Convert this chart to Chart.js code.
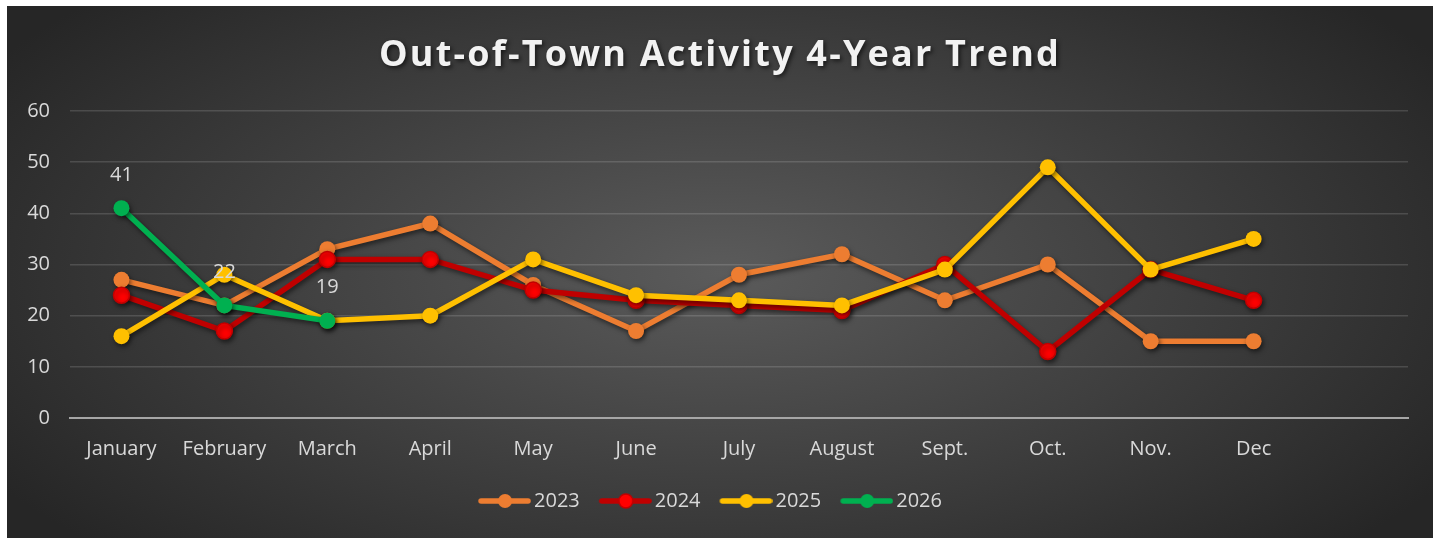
<!DOCTYPE html>
<html>
<head>
<meta charset="utf-8">
<script src="https://cdn.jsdelivr.net/npm/chart.js@4.4.1/dist/chart.umd.min.js"></script>
<style>
  html, body { margin: 0; padding: 0; background: #fff; }
  #wrap {
    position: absolute; left: 7px; top: 6px; width: 1426px; height: 532px;
    background: radial-gradient(ellipse 60% 75% at 50% 50%, #5b5b5b 0%, #3e3e3e 55%, #262626 100%);
  }
</style>
</head>
<body>
<div id="wrap"><canvas id="trendChart"></canvas></div>
<script>
// Chart data
const months = ['January', 'February', 'March', 'April', 'May', 'June', 'July', 'August', 'Sept.', 'Oct.', 'Nov.', 'Dec', ''];
const years = ['2023', '2024', '2025', '2026'];
const data2023 = [27, 22, 33, 38, 26, 17, 28, 32, 23, 30, 15, 15];
const data2024 = [24, 17, 31, 31, 25, 23, 22, 21, 30, 13, 29, 23];
const data2025 = [16, 28, 19, 20, 31, 24, 23, 22, 29, 49, 29, 35];
const data2026 = [41, 22, 19];
const yTicks = [0, 10, 20, 30, 40, 50, 60];

const textColor = '#d9d9d9';
const fontFamily = '"Open Sans", sans-serif';

// legend swatch: line with a dot in the middle (blank strip on the left for spacing)
function legendSwatch(lineColor, dotColor, dotBorder) {
    const c = document.createElement('canvas');
    c.width = 65; c.height = 18;
    const g = c.getContext('2d');
    g.strokeStyle = lineColor;
    g.lineWidth = 5.5;
    g.lineCap = 'round';
    g.beginPath(); g.moveTo(15, 9); g.lineTo(62, 9); g.stroke();
    g.fillStyle = dotColor;
    g.beginPath(); g.arc(39, 9, 7, 0, Math.PI * 2); g.fill();
    if (dotBorder) { g.strokeStyle = dotBorder; g.lineWidth = 1.5; g.stroke(); }
    return c;
}

function series(label, values, line, dot, dotBorder, order) {
    return {
        label: label,
        data: values,
        borderColor: line,
        backgroundColor: dot,
        pointBackgroundColor: dot,
        pointBorderColor: dotBorder || dot,
        pointBorderWidth: dotBorder ? 1.5 : 0,
        borderWidth: 5.5,
        pointRadius: 8,
        pointHoverRadius: 8,
        tension: 0,
        order: order,
        swatch: legendSwatch(line, dot, dotBorder)
    };
}

// drop shadow under the lines
const lineShadow = {
    id: 'lineShadow',
    beforeDatasetDraw(chart) {
        const ctx = chart.ctx;
        ctx.save();
        ctx.shadowColor = 'rgba(0,0,0,0.55)';
        ctx.shadowBlur = 5;
        ctx.shadowOffsetX = 1.5;
        ctx.shadowOffsetY = 2.5;
    },
    afterDatasetDraw(chart) {
        chart.ctx.restore();
    }
};

// title with shadow
const titleDraw = {
    id: 'titleDraw',
    afterDraw(chart) {
        const ctx = chart.ctx;
        ctx.save();
        ctx.font = 'bold 36px ' + fontFamily;
        ctx.letterSpacing = '2.2px';
        ctx.textAlign = 'center';
        ctx.textBaseline = 'middle';
        ctx.shadowColor = 'rgba(0,0,0,0.6)';
        ctx.shadowBlur = 4;
        ctx.shadowOffsetX = 2;
        ctx.shadowOffsetY = 2;
        ctx.fillStyle = '#f2f2f2';
        ctx.fillText('Out-of-Town Activity 4-Year Trend', chart.width / 2, 50);
        ctx.restore();
    }
};

// value labels for 2026
const valueLabels = {
    id: 'valueLabels',
    afterDatasetsDraw(chart) {
        const ctx = chart.ctx;
        const meta = chart.getDatasetMeta(3);
        ctx.save();
        ctx.font = '20px ' + fontFamily;
        ctx.fillStyle = textColor;
        ctx.textAlign = 'center';
        ctx.textBaseline = 'middle';
        meta.data.forEach((pt, i) => {
            ctx.fillText(String(data2026[i]), pt.x, pt.y - 33);
        });
        ctx.restore();
    }
};

const ctx = document.getElementById('trendChart').getContext('2d');
new Chart(ctx, {
    type: 'line',
    data: {
        labels: months,
        datasets: [
            series(years[0], data2023, '#ED7D31', '#ED7D31', null, 3),
            series(years[1], data2024, '#C00000', '#FF0000', '#C00000', 2),
            series(years[2], data2025, '#FFC000', '#FFC000', null, 1),
            series(years[3], data2026, '#00B050', '#00B050', null, 0)
        ]
    },
    options: {
        responsive: true,
        maintainAspectRatio: false,
        animation: false,
        layout: { padding: { top: 105, right: 25, left: 0, bottom: 17 } },
        plugins: {
            title: { display: false },
            tooltip: { enabled: false },
            legend: {
                position: 'bottom',
                labels: {
                    color: textColor,
                    font: { family: fontFamily, size: 20 },
                    usePointStyle: true,
                    pointStyleWidth: 51,
                    padding: 14,
                    sort: (a, b) => a.datasetIndex - b.datasetIndex,
                    generateLabels(chart) {
                        return chart.data.datasets.map((ds, i) => ({
                            text: ds.label,
                            fontColor: textColor,
                            pointStyle: ds.swatch,
                            datasetIndex: i,
                            hidden: false,
                            lineWidth: 0,
                            strokeStyle: 'transparent',
                            fillStyle: 'transparent'
                        }));
                    }
                }
            }
        },
        scales: {
            x: {
                offset: true,
                grid: { display: false, drawTicks: false },
                border: { color: '#a6a6a6', width: 2 },
                ticks: {
                    color: textColor,
                    font: { family: fontFamily, size: 20 },
                    padding: 19,
                    maxRotation: 0,
                    autoSkip: false
                },
                afterFit(scale) { scale.height = 59; }
            },
            y: {
                min: 0,
                max: 60,
                afterBuildTicks(scale) { scale.ticks = yTicks.map(v => ({ value: v })); },
                grid: { color: 'rgba(255,255,255,0.14)', lineWidth: 1.5, drawTicks: false },
                border: { display: false },
                ticks: {
                    color: textColor,
                    font: { family: fontFamily, size: 20 },
                    padding: 20
                },
                afterFit(scale) { scale.width = 63; }
            }
        }
    },
    plugins: [lineShadow, valueLabels, titleDraw]
});
</script>
</body>
</html>
